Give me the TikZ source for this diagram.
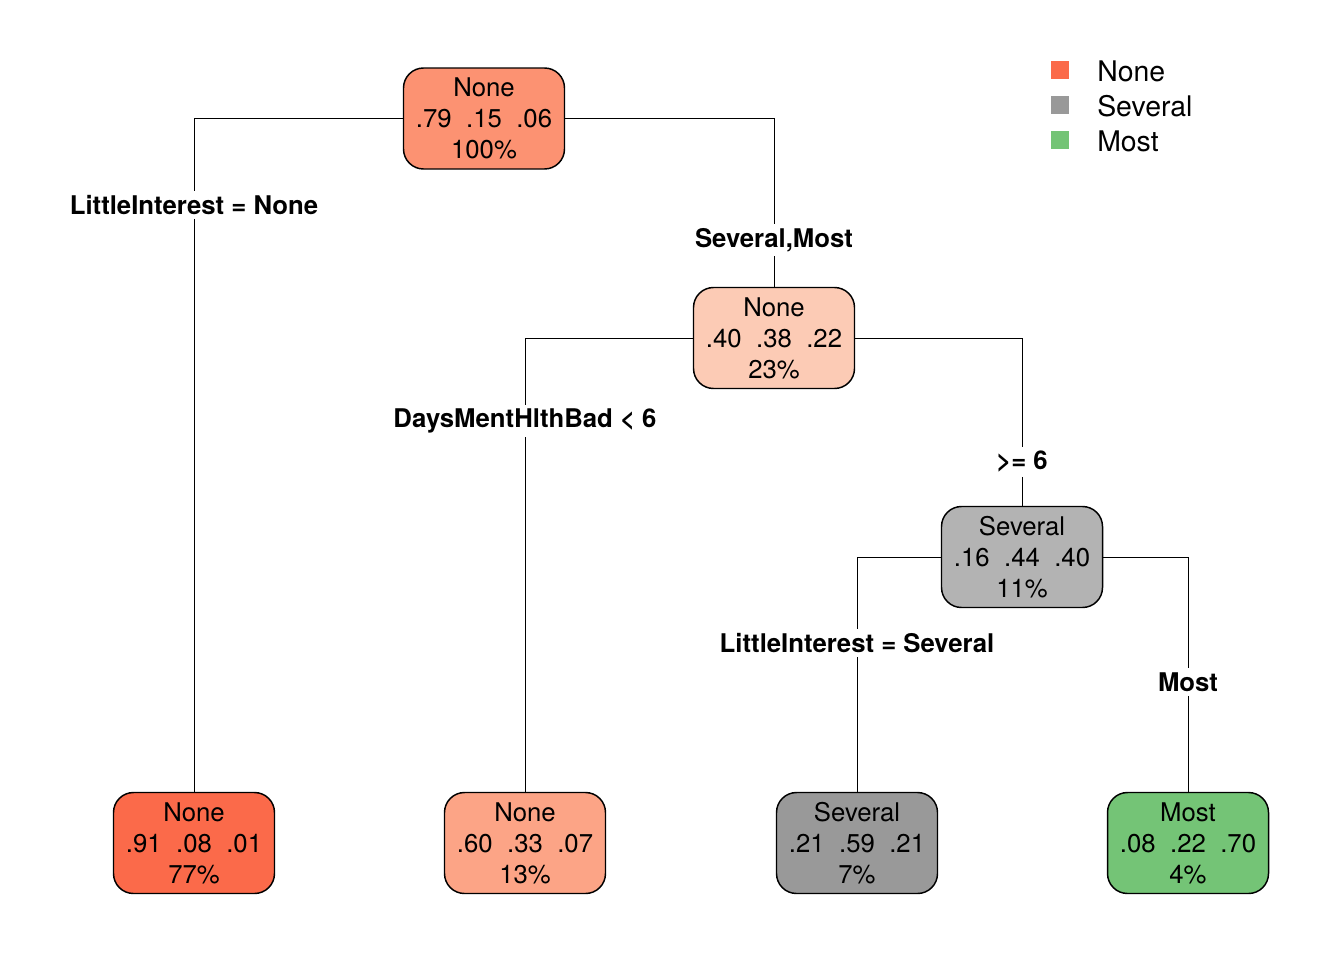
\documentclass[tikz,border=0pt]{standalone}
\usepackage{fontspec}
\setmainfont{TeX Gyre Heros}

\definecolor{noneA}{HTML}{FC9272}
\definecolor{noneB}{HTML}{FCCBB5}
\definecolor{noneC}{HTML}{FB6A4A}
\definecolor{noneD}{HTML}{FCA486}
\definecolor{sevA}{HTML}{B3B3B3}
\definecolor{sevB}{HTML}{999999}
\definecolor{mostA}{HTML}{74C476}

\tikzset{
  treebox/.style={draw, line width=1.1pt, rounded corners=15pt, minimum width=120.75pt,
    minimum height=75.75pt, align=center, inner sep=0pt,
    font=\fontsize{19.3}{23.25}\selectfont},
  splitlab/.style={fill=white, inner sep=3pt, font=\fontsize{19.3}{23}\selectfont\bfseries},
  legbox/.style={minimum size=13.5pt, inner sep=0pt},
  legtext/.style={anchor=west, inner sep=0pt, font=\fontsize{21.3}{24}\selectfont}
}

\newcommand{\probs}[3]{#1\hspace{0.56em}#2\hspace{0.56em}#3}

\begin{document}
\begin{tikzpicture}[x=0.75pt, y=-0.75pt]

\useasboundingbox (0,0) rectangle (1344,960);

% inner nodes
\node [treebox, fill=noneA] (root) at (484,118.5) {None\\\probs{.79}{.15}{.06}\\100\%};
\node [treebox, fill=noneB] (n2) at (774,338) {None\\\probs{.40}{.38}{.22}\\23\%};
\node [treebox, fill=sevA] (n3) at (1022,557) {Several\\\probs{.16}{.44}{.40}\\11\%};

% leaves
\node [treebox, fill=noneC] (l1) at (194,843) {None\\\probs{.91}{.08}{.01}\\77\%};
\node [treebox, fill=noneD] (l2) at (525,843) {None\\\probs{.60}{.33}{.07}\\13\%};
\node [treebox, fill=sevB] (l3) at (857,843) {Several\\\probs{.21}{.59}{.21}\\7\%};
\node [treebox, fill=mostA] (l4) at (1188,843) {Most\\\probs{.08}{.22}{.70}\\4\%};

% split labels
\node [splitlab] (s1) at (194,205) {LittleInterest = None};
\node [splitlab] (s2) at (774,240) {Several,Most};
\node [splitlab] (s3) at (525,421) {DaysMentHlthBad < 6};
\node [splitlab] (s4) at (1022,462) {>= 6};
\node [splitlab] (s5) at (857,643) {LittleInterest = Several};
\node [splitlab] (s6) at (1188,682) {Most};

\begin{scope}[line width=0.75pt]
\draw (root.west) -| (s1); %root-s1
\draw (s1) -- (l1); %s1-l1
\draw (root.east) -| (s2); %root-s2
\draw (s2) -- (n2); %s2-n2
\draw (n2.west) -| (s3); %n2-s3
\draw (s3) -- (l2); %s3-l2
\draw (n2.east) -| (s4); %n2-s4
\draw (s4) -- (n3); %s4-n3
\draw (n3.west) -| (s5); %n3-s5
\draw (s5) -- (l3); %s5-l3
\draw (n3.east) -| (s6); %n3-s6
\draw (s6) -- (l4); %s6-l4
\end{scope}

% legend
\node [legbox, fill=noneC] (k1) at (1060,70) {};
\node [legbox, fill=sevB] (k2) at (1060,105) {};
\node [legbox, fill=mostA] (k3) at (1060,140) {};
\node [legtext] (t1) at (1097,71) {None};
\node [legtext] (t2) at (1097,106) {Several};
\node [legtext] (t3) at (1097,141) {Most};

\end{tikzpicture}
\end{document}
